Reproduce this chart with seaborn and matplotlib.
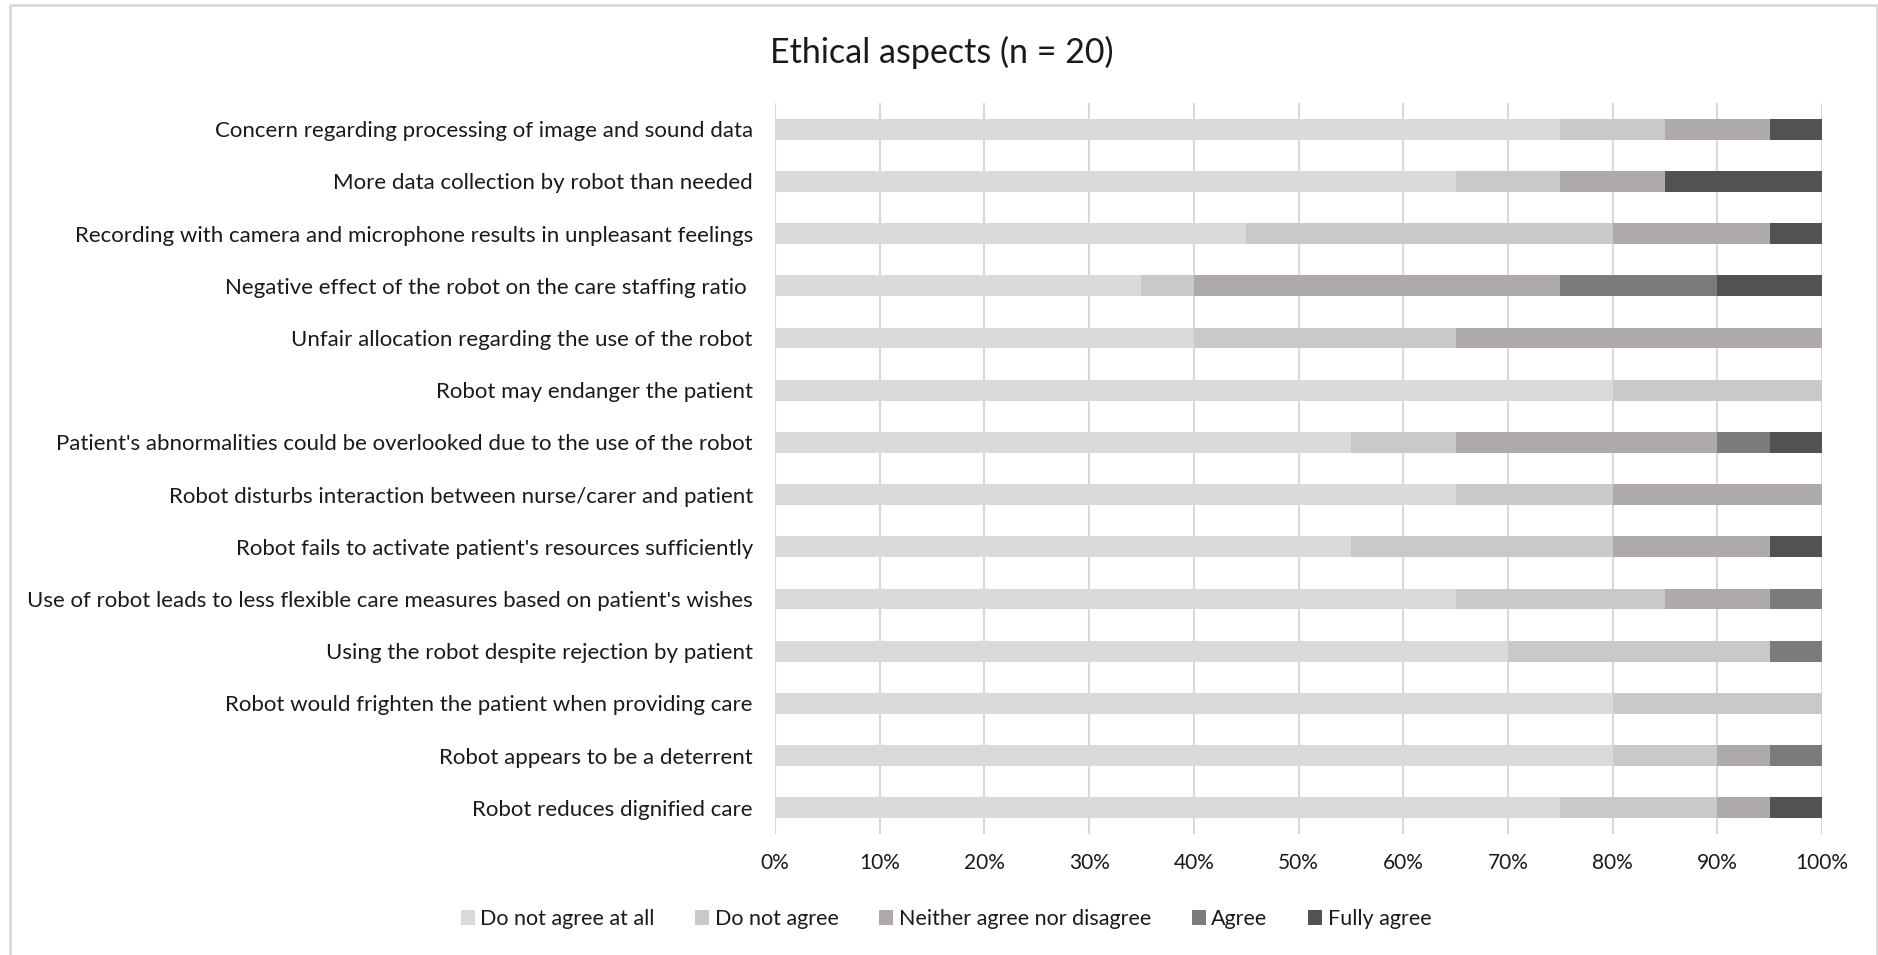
import numpy as np
import pandas as pd
import matplotlib
matplotlib.use("Agg")
import matplotlib.pyplot as plt
from matplotlib.patches import Rectangle, Patch
import seaborn as sns

items = [
    "Concern regarding processing of image and sound data",
    "More data collection by robot than needed",
    "Recording with camera and microphone results in unpleasant feelings",
    "Negative effect of the robot on the care staffing ratio ",
    "Unfair allocation regarding the use of the robot",
    "Robot may endanger the patient",
    "Patient's abnormalities could be overlooked due to the use of the robot",
    "Robot disturbs interaction between nurse/carer and patient",
    "Robot fails to activate patient's resources sufficiently",
    "Use of robot leads to less flexible care measures based on patient's wishes",
    "Using the robot despite rejection by patient",
    "Robot would frighten the patient when providing care",
    "Robot appears to be a deterrent",
    "Robot reduces dignified care",
]
responses = ["Do not agree at all", "Do not agree", "Neither agree nor disagree", "Agree", "Fully agree"]

do_not_agree_at_all = [75, 65, 45, 35, 40, 80, 55, 65, 55, 65, 70, 80, 80, 75]
do_not_agree        = [10, 10, 35, 5, 25, 20, 10, 15, 25, 20, 25, 20, 10, 15]
neither             = [10, 10, 15, 35, 35, 0, 25, 20, 15, 10, 0, 0, 5, 5]
agree               = [0, 0, 0, 15, 0, 0, 5, 0, 0, 5, 5, 0, 5, 0]
fully_agree         = [5, 15, 5, 10, 0, 0, 5, 0, 5, 0, 0, 0, 0, 5]

colors = ["#DADADA", "#C9C9C9", "#AEAAAA", "#7B7B7B", "#525252"]
xticks = [0, 10, 20, 30, 40, 50, 60, 70, 80, 90, 100]
xtick_labels = [f"{t}%" for t in xticks]

series = [do_not_agree_at_all, do_not_agree, neither, agree, fully_agree]
df = pd.DataFrame({"item": items})
cum = np.zeros(len(items))
for name, vals in zip(responses, series):
    cum = cum + np.array(vals, dtype=float)
    df[name] = cum

sns.set_theme(style="white")
plt.rcParams["font.family"] = ["Lato", "DejaVu Sans"]

fig = plt.figure(figsize=(18.78, 9.55), dpi=100)
ax = fig.add_axes([775 / 1878, 1 - 834 / 955, (1822 - 775) / 1878, (834 - 103) / 955])

# overlay cumulative totals from largest to smallest
for name, col in reversed(list(zip(responses, colors))):
    sns.barplot(data=df, x=name, y="item", orient="h", color=col, width=0.4,
                saturation=1, ax=ax, zorder=3, linewidth=0)

ax.set_xlim(0, 100)
ax.set_ylim(len(items) - 0.5, -0.5)
ax.set_xticks(xticks)
ax.set_xticklabels(xtick_labels)
ax.set_xlabel("")
ax.set_ylabel("")
ax.grid(axis="x", color="#D9D9D9", linewidth=1.5, zorder=0)
ax.grid(axis="y", visible=False)
for s in ax.spines.values():
    s.set_visible(False)
ax.tick_params(axis="y", length=0, pad=16, labelsize=16, labelcolor="#1a1a1a")
ax.tick_params(axis="x", length=0, pad=14, labelsize=15, labelcolor="#1a1a1a")

fig.text(942 / 1878, 1 - 52 / 955, "Ethical aspects (n = 20)", ha="center", va="center",
         fontsize=24.5, color="#1a1a1a")

handles = [Patch(facecolor=c, edgecolor="none") for c in colors]
fig.legend(handles, responses, loc="center", bbox_to_anchor=(946 / 1878, 1 - 919 / 955),
           ncol=5, frameon=False, fontsize=15.5, handlelength=0.65, handleheight=0.65,
           handletextpad=0.25, columnspacing=1.9, labelcolor="#1a1a1a")

fig.patches.append(Rectangle((10 / 1878, -0.05), (1877 - 10) / 1878, 1.05 - 5 / 955,
                             transform=fig.transFigure, fill=False,
                             edgecolor="#D9D9D9", linewidth=2))

fig.savefig("out.png", dpi=100)
